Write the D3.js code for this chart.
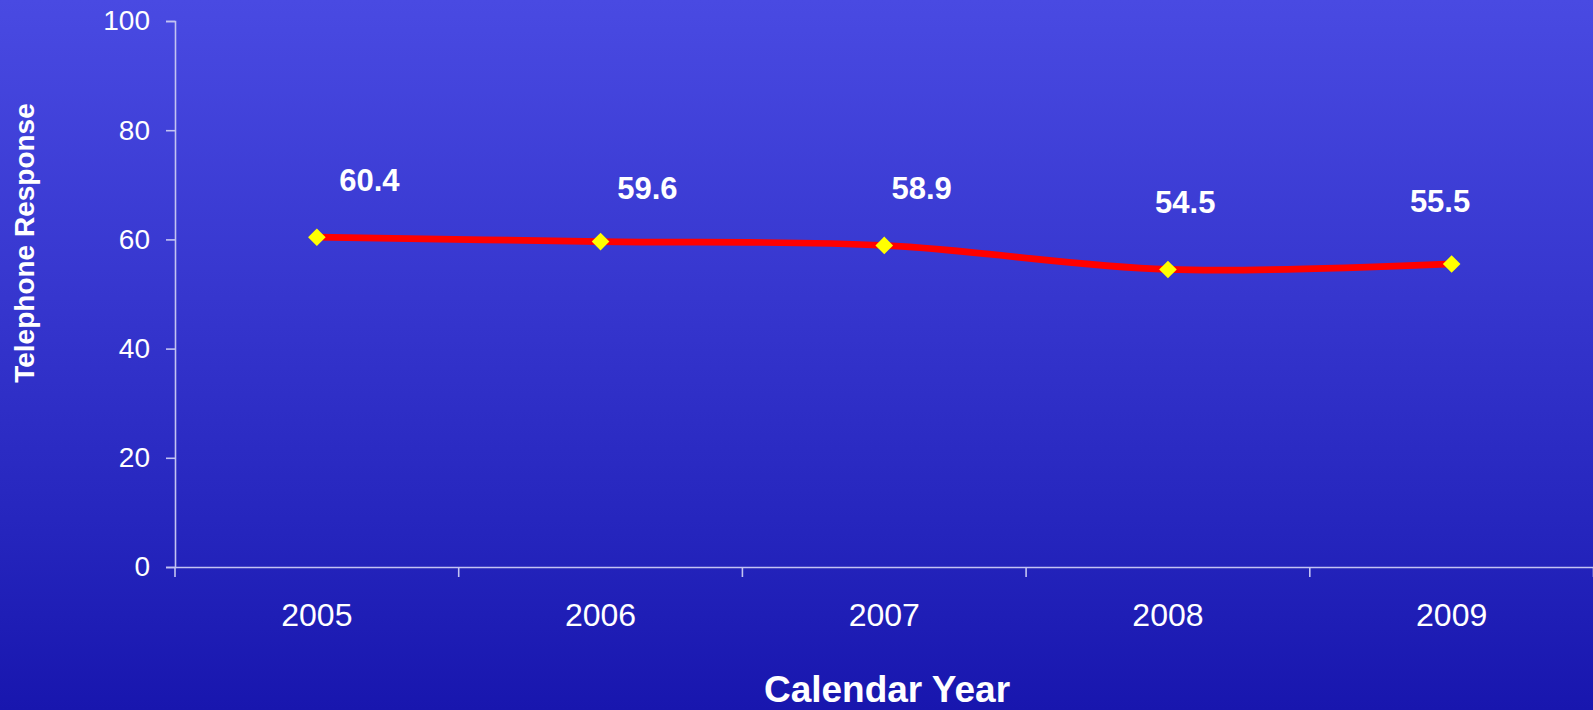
<!DOCTYPE html>
<html>
<head>
<meta charset="utf-8">
<script src="https://cdn.jsdelivr.net/npm/d3@7"></script>
<style>
  html, body { margin: 0; padding: 0; background: #1a17ae; }
  svg { display: block; }
  text { font-family: "Liberation Sans", Arial, Helvetica, sans-serif; fill: #ffffff; }
</style>
</head>
<body>
<svg id="chart" width="1593" height="710"></svg>
<script>
// Yearly telephone response values
const years = ["2005", "2006", "2007", "2008", "2009"];
const responseValues = [60.4, 59.6, 58.9, 54.5, 55.5];
const yTickValues = [0, 20, 40, 60, 80, 100];
// Hand placement of each value label relative to its point [dx, dy]
const labelNudge = [[52.6, -46.5], [46.8, -42.6], [37.4, -46.4], [17.3, -56.7], [-11.6, -52.3]];

const width = 1593, height = 710;
const margin = { top: 21, right: -0.5, bottom: 143, left: 175 };

const svg = d3.select("#chart");

// Background gradient
const defs = svg.append("defs");
const grad = defs.append("linearGradient")
  .attr("id", "bg").attr("x1", 0).attr("y1", 0).attr("x2", 0).attr("y2", 1);
[[0, "#494ae2"], [0.42, "#3636ce"], [0.75, "#2525bd"], [1, "#1816ae"]].forEach(([o, c]) =>
  grad.append("stop").attr("offset", o).attr("stop-color", c));
svg.append("rect").attr("width", width).attr("height", height).attr("fill", "url(#bg)");

const x = d3.scaleBand()
  .domain(years)
  .range([margin.left, width - margin.right])
  .padding(0);

const y = d3.scaleLinear()
  .domain([0, 100])
  .range([height - margin.bottom, margin.top]);

const axisColor = "#c3c3f2";

// Y axis
const yAxis = svg.append("g")
  .attr("transform", `translate(${margin.left},0)`)
  .call(d3.axisLeft(y).tickValues(yTickValues).tickSize(9).tickPadding(16));
yAxis.selectAll("path, line").attr("stroke", axisColor).attr("stroke-width", 1.6);
yAxis.selectAll("text")
  .style("font-size", "28px")
  .style("font-family", "'Liberation Sans', Arial, sans-serif")
  .attr("fill", "#ffffff");

// X axis: labels centred in each band, tick marks on band boundaries
const x0 = y(0);
const xAxis = svg.append("g")
  .attr("transform", `translate(0,${x0})`)
  .call(d3.axisBottom(x).tickSize(0).tickPadding(36).tickSizeOuter(0));
xAxis.select("path").attr("stroke", axisColor).attr("stroke-width", 1.6);
xAxis.selectAll("text")
  .style("font-size", "32px")
  .style("font-family", "'Liberation Sans', Arial, sans-serif")
  .attr("fill", "#ffffff");

const boundaries = d3.range(years.length + 1).map(i => x.range()[0] + i * x.step());
svg.append("g").selectAll("line")
  .data(boundaries)
  .join("line")
  .attr("x1", d => d).attr("x2", d => d)
  .attr("y1", x0).attr("y2", x0 + 10)
  .attr("stroke", axisColor).attr("stroke-width", 1.6);

// Axis titles
svg.append("text")
  .attr("x", (margin.left + width) / 2 + 3)
  .attr("y", 702)
  .attr("text-anchor", "middle")
  .style("font-size", "37px")
  .style("font-weight", "bold")
  .text("Calendar Year");

svg.append("text")
  .attr("transform", "translate(34,243) rotate(-90)")
  .attr("text-anchor", "middle")
  .style("font-size", "28px")
  .style("font-weight", "bold")
  .text("Telephone Response");

// Data line
const points = years.map((yr, i) => ({ year: yr, value: responseValues[i] }));
const cx = d => x(d.year) + x.bandwidth() / 2;

const line = d3.line()
  .x(cx)
  .y(d => y(d.value))
  .curve(d3.curveCatmullRom.alpha(0.5));

svg.append("path")
  .datum(points)
  .attr("d", line)
  .attr("fill", "none")
  .attr("stroke", "#ff0000")
  .attr("stroke-width", 6.7)
  .attr("stroke-linejoin", "round");

// Diamond markers
svg.append("g").selectAll("path")
  .data(points)
  .join("path")
  .attr("transform", d => `translate(${cx(d)},${y(d.value)})`)
  .attr("d", "M0,-8.8L8.8,0L0,8.8L-8.8,0Z")
  .attr("fill", "#ffff00");

// Value labels
svg.append("g").selectAll("text")
  .data(points)
  .join("text")
  .attr("x", (d, i) => cx(d) + labelNudge[i][0])
  .attr("y", (d, i) => y(d.value) + labelNudge[i][1])
  .attr("text-anchor", "middle")
  .style("font-size", "31px")
  .style("font-weight", "bold")
  .text(d => d.value.toFixed(1));
</script>
</body>
</html>
